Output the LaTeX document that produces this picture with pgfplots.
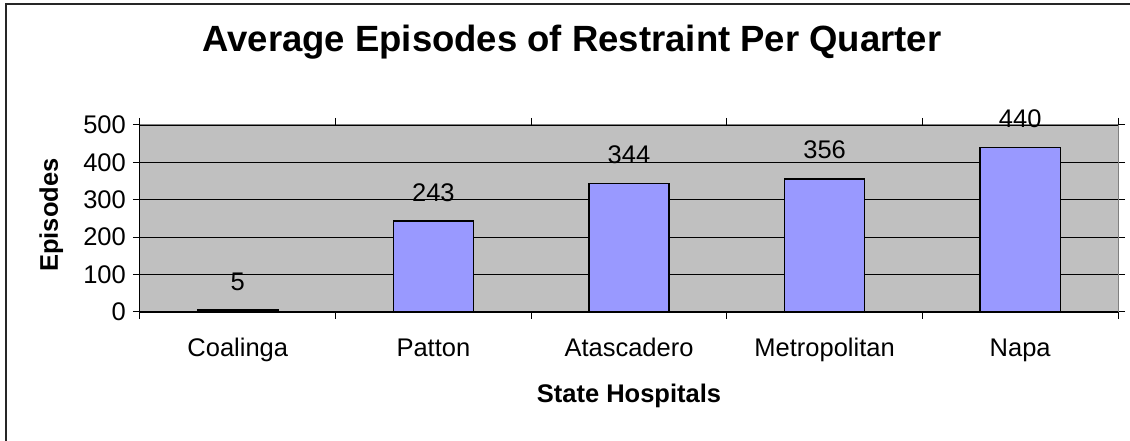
\documentclass[border=0pt]{standalone}
\usepackage{fontspec}
\setmainfont{Liberation Sans}
\usepackage{pgfplots}
\pgfplotsset{compat=1.18}
\definecolor{plotbg}{HTML}{C0C0C0}
\definecolor{barfill}{HTML}{9999FF}
\definecolor{framegray}{HTML}{808080}
\begin{document}
\begin{tikzpicture}[x=1pt,y=1pt]
\path[use as bounding box] (0,0) rectangle (1130,441);
\draw[line width=2pt,black!85] (5.5,0) -- (5.5,436.5) -- (1130,436.5);
\begin{axis}[
  at={(140pt,129pt)}, anchor=south west,
  width=978pt, height=187pt, scale only axis,
  xmin=-0.5, xmax=4.5, ymin=0, ymax=500,
  clip=false,
  /pgf/number format/assume math mode=true,
  axis background/.style={fill=plotbg},
  axis line style={draw=framegray, line width=1pt},
  tick align=outside,
  major tick length=7pt,
  ytick={0,100,...,500},
  ytick style={draw=black, line width=1pt},
  ymajorgrids, grid style={black, line width=0.9pt},
  xtick={0,1,2,3,4},
  xticklabels={Coalinga,Patton,Atascadero,Metropolitan,Napa},
  xtick style={draw=none},
  extra x ticks={-0.5,0.5,1.5,2.5,3.5,4.5},
  extra x tick labels={},
  extra x tick style={xtick style={draw=black, line width=1pt}},
  ticklabel style={font=\fontsize{25.5}{30}\selectfont, inner sep=0pt},
  xticklabel style={anchor=base, yshift=-38pt},
  yticklabel style={anchor=east, xshift=-7pt},
  title={Average Episodes of Restraint Per Quarter},
  title style={at={(axis description cs:0.4417,1.3636)}, anchor=base, inner sep=0pt, font=\fontsize{36.5}{40}\selectfont\bfseries},
  xlabel={State Hospitals},
  xlabel style={at={(axis description cs:0.5,-0.4866)}, anchor=base, inner sep=0pt, font=\fontsize{25.5}{30}\selectfont\bfseries},
  ylabel={Episodes},
  ylabel style={at={(axis description cs:-0.08384,0.5187)}, anchor=base, inner sep=0pt, font=\fontsize{25.5}{30}\selectfont\bfseries},
  after end axis/.code={\draw[black,line width=1pt] (rel axis cs:0,1) -- (rel axis cs:0,0) -- (rel axis cs:1,0);},
]
\addplot[ybar, fill=barfill, draw=black, line width=1.3pt, bar width=0.41,
  nodes near coords,
  every node near coord/.append style={anchor=base, yshift=20pt, inner sep=0pt, black, font=\fontsize{25.5}{30}\selectfont}]
  coordinates {(0,5) (1,243) (2,344) (3,356) (4,440)};
\end{axis}
\end{tikzpicture}
\end{document}
